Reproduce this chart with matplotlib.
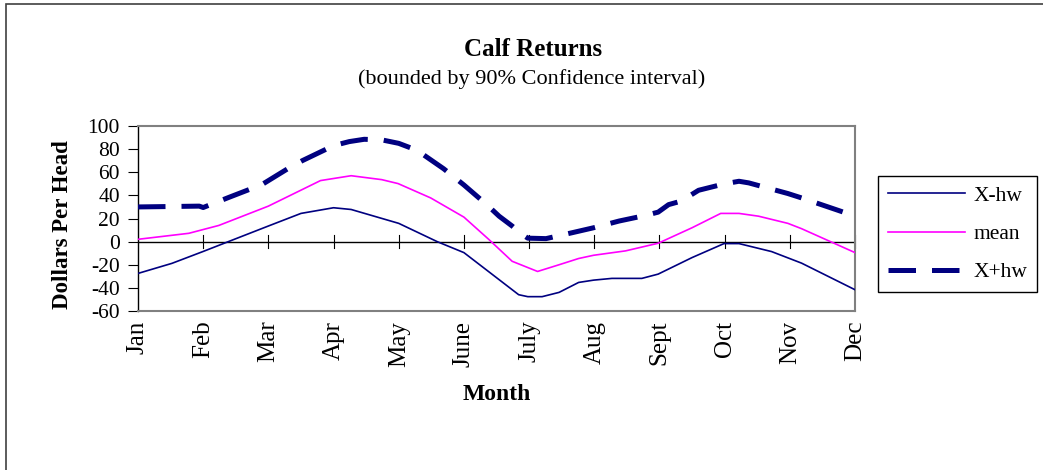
import matplotlib.pyplot as plt
from matplotlib.lines import Line2D
from matplotlib.patches import Rectangle
import matplotlib.transforms as mtransforms

plt.rcParams['font.family'] = ['Liberation Serif', 'DejaVu Serif']

months = ['Jan', 'Feb', 'Mar', 'Apr', 'May', 'June', 'July', 'Aug', 'Sept', 'Oct', 'Nov', 'Dec']
y_ticks = [100, 80, 60, 40, 20, 0, -20, -40, -60]

# month position (0 = Jan, 11 = Dec) and value
lower_x = [0, 0.52, 1.0, 2.0, 2.5, 3.0, 3.27, 4.0, 4.59, 5.0, 5.84, 5.98, 6.2, 6.46,
           6.76, 6.99, 7.27, 7.73, 7.98, 8.5, 8.99, 9.22, 9.72, 10.18, 11.0]
lower_y = [-27.5, -18.8, -8.5, 13.5, 24.4, 29.3, 27.8, 15.8, 0, -9.5, -45.9, -47.6, -47.6, -43.9,
           -35.3, -33.3, -31.8, -31.8, -28.1, -13.8, -1.7, -1.7, -8.6, -18.6, -41.6]

mean_x = [0, 0.78, 1.24, 2.0, 2.8, 3.27, 3.74, 3.99, 4.49, 5.0, 5.38, 5.74, 6.13,
          6.46, 6.76, 6.99, 7.48, 7.98, 8.5, 8.94, 9.22, 9.52, 9.97, 10.18, 11.0]
mean_y = [2, 7.2, 14, 30.7, 52.8, 57, 53.6, 50.2, 37.8, 21.2, 2, -17, -25.8,
          -20, -14.6, -11.8, -8, -1.4, 12, 24.4, 24.4, 22, 15.8, 11.2, -9.5]

upper_x = [0, 0.94, 1.0, 1.4, 1.9, 2.29, 2.52, 3.0, 3.24, 3.47, 3.74, 4.0, 4.28, 4.69,
           5.0, 5.35, 5.54, 5.74, 5.89, 5.98, 6.26, 6.66, 6.99, 7.38, 7.79, 7.98,
           8.14, 8.33, 8.6, 8.99, 9.22, 9.37, 9.97, 10.18, 11.0]
upper_y = [30, 30.7, 29.5, 38.4, 49.3, 62.8, 70, 83, 86.5, 88.5, 88, 85, 79, 63,
           49, 32, 22, 13.5, 6.3, 3, 2.6, 7.7, 12, 17.8, 22.7, 25.5,
           32, 35, 44.4, 49.9, 52.2, 50.8, 41.6, 37.8, 22.1]

navy = '#000080'
magenta = '#FF00FF'

fig = plt.figure(figsize=(10.43, 4.7), dpi=100)
fig.patches.append(Rectangle((6 / 1043, -0.05), 1.1, 1.05 - 4 / 470, transform=fig.transFigure,
                             fill=False, edgecolor='#404040', linewidth=1.2))

ax = fig.add_axes([138 / 1043, 1 - 311 / 470, (855 - 138) / 1043, (311 - 126) / 470])
ax.set_xlim(0, len(months) - 1)
ax.set_ylim(-60, 100)

ax.plot(lower_x, lower_y, color=navy, linewidth=1.2, label='X-hw', zorder=3)
ax.plot(mean_x, mean_y, color=magenta, linewidth=1.2, label='mean', zorder=3)
ax.plot(upper_x, upper_y, color=navy, linewidth=3.6, dashes=(5.5, 3.2), label='X+hw', zorder=3)

# category axis sits on the zero line
ax.axhline(0, color='black', linewidth=1.0, zorder=2)
tick_tr = mtransforms.blended_transform_factory(ax.transData, ax.transAxes)
zero_frac = (0 - (-60)) / 160
for i in range(1, len(months)):
    ax.plot([i, i], [zero_frac - 0.035, zero_frac + 0.035], color='black', linewidth=0.8,
            transform=tick_tr, clip_on=False, zorder=2)

for side in ['top', 'right', 'bottom']:
    ax.spines[side].set_color('#808080')
    ax.spines[side].set_linewidth(1.5)
ax.spines['left'].set_color('black')
ax.spines['left'].set_linewidth(1.0)

ax.set_yticks(y_ticks)
ax.set_yticklabels([str(v) for v in y_ticks], fontsize=15.5)
ax.tick_params(axis='y', direction='out', length=7, width=0.8, pad=6)

ax.set_xticks(range(len(months)))
ax.set_xticklabels(months, rotation=90, fontsize=18, va='top', ha='center')
ax.tick_params(axis='x', length=0, pad=7)

fig.text(497 / 1043, 1 - 395 / 470, 'Month', fontsize=17, fontweight='bold',
         ha='center', va='center')
fig.text(63 / 1043, 1 - 225 / 470, 'Dollars Per Head', fontsize=16.5, fontweight='bold',
         rotation=90, ha='center', va='center')

fig.text(533 / 1043, 1 - 50 / 470, 'Calf Returns', fontsize=18, fontweight='bold',
         ha='center', va='center')
fig.text(532 / 1043, 1 - 79 / 470, '(bounded by 90% Confidence interval)', fontsize=16,
         ha='center', va='center')

handles = [Line2D([], [], color=navy, linewidth=1.2),
           Line2D([], [], color=magenta, linewidth=1.2),
           Line2D([], [], color=navy, linewidth=3.6, dashes=(5.5, 3.2))]
leg = fig.legend(handles, ['X-hw', 'mean', 'X+hw'], loc='upper left',
                 bbox_to_anchor=(878 / 1043, 1 - 176 / 470), fontsize=15.5,
                 frameon=True, fancybox=False, edgecolor='black', framealpha=1,
                 handlelength=3.6, handletextpad=0.4, labelspacing=0.85, borderpad=0.45,
                 borderaxespad=0)
leg.get_frame().set_linewidth(1.0)

fig.savefig('out.png', dpi=100)
